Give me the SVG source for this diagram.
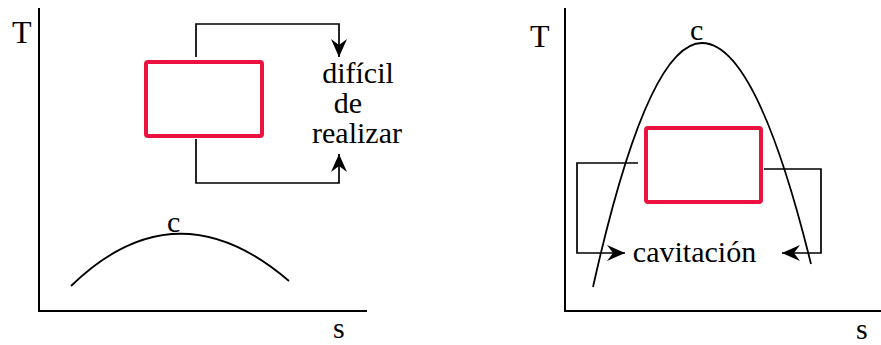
<svg xmlns="http://www.w3.org/2000/svg" width="881" height="345" viewBox="0 0 881 345">
<style>
text{font-family:"Liberation Serif","Times New Roman",serif;fill:#000}
.lbl{font-size:30px}
.ax{fill:none;stroke:#000;stroke-width:2}
.crv{fill:none;stroke:#000;stroke-width:1.8}
.con{fill:none;stroke:#000;stroke-width:1.7}
.box{fill:none;stroke:#ec1240;stroke-width:4;stroke-linejoin:round}
</style>
<defs>
<marker id="ah" viewBox="-19 -9 20 18" markerWidth="20" markerHeight="18" refX="0" refY="0" orient="auto" markerUnits="userSpaceOnUse">
<path d="M0,0 L-18,-8 L-12,0 L-18,8 Z" fill="#000"/>
</marker>
</defs>
<rect width="881" height="345" fill="#fff"/>
<g id="left-panel">
<g id="left-axes">
<path class="ax" d="M39,8 V311 H367"/>
<text class="lbl" x="12" y="43" style="font-size:32px">T</text>
<text class="lbl" x="333" y="338">s</text>
</g>
<g id="left-dome">
<path class="crv" d="M71,286 Q176,184 289,281"/>
<text class="lbl" x="167" y="232">c</text>
</g>
<g id="left-box">
<rect class="box" x="146" y="62" width="116" height="74" rx="2"/>
</g>
<g id="left-label">
<text class="lbl" x="358" y="83" text-anchor="middle">difícil</text>
<text class="lbl" x="348" y="113" text-anchor="middle">de</text>
<text class="lbl" x="357" y="143" text-anchor="middle">realizar</text>
</g>
</g>
<g id="right-panel">
<g id="right-axes">
<path class="ax" d="M565,8 V311 H881"/>
<text class="lbl" x="530" y="47" style="font-size:32px">T</text>
<text class="lbl" x="856" y="339">s</text>
</g>
<g id="right-dome">
<path class="crv" d="M593,287 Q647.5,43 702,43 Q756.5,43 811,264"/>
<text class="lbl" x="690" y="40">c</text>
</g>
<g id="right-box">
<rect class="box" x="646" y="128" width="115" height="74" rx="2"/>
</g>
<g id="right-label">
<text class="lbl" x="694.5" y="262" text-anchor="middle">cavitación</text>
</g>
</g>
<g id="connectors">
<path class="con" d="M196,57 V24 H339 V57" marker-end="url(#ah)"/>
<path class="con" d="M196,139 V183 H339 V154" marker-end="url(#ah)"/>
<path class="con" d="M638,163 H577 V253 H625" marker-end="url(#ah)"/>
<path class="con" d="M764,169 H821 V253 H782" marker-end="url(#ah)"/>
</g>
</svg>
